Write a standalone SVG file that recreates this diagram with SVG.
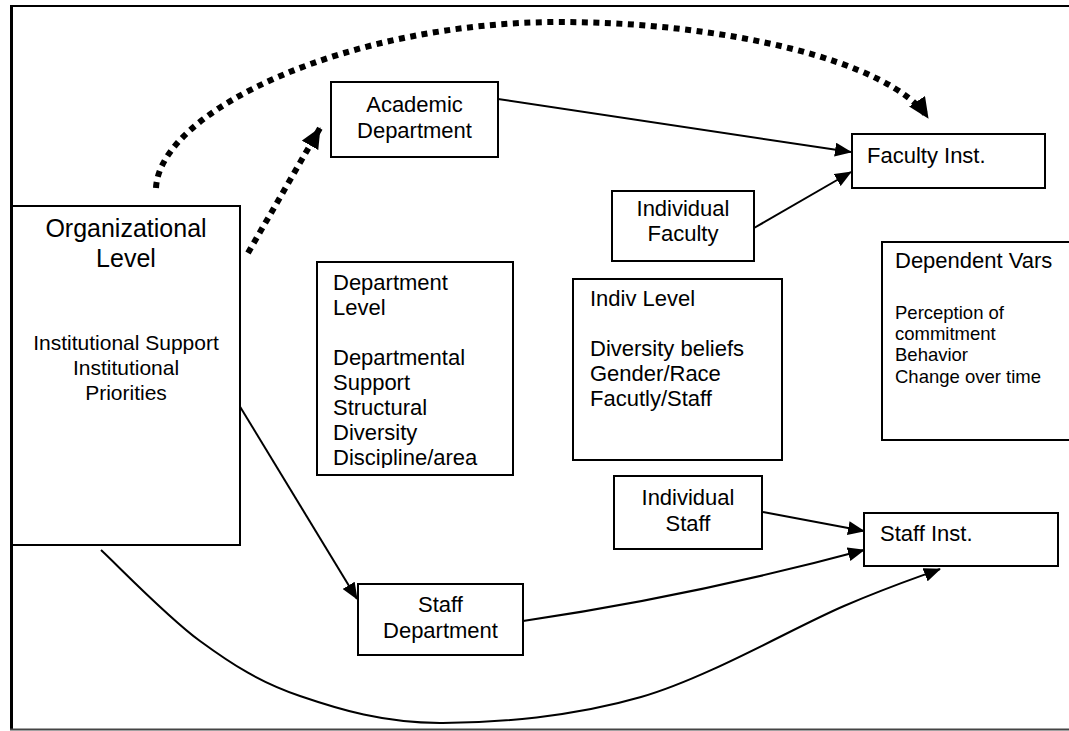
<svg xmlns="http://www.w3.org/2000/svg" width="1069" height="731" viewBox="0 0 1069 731">
  <style>
    .box { fill: #fff; stroke: #000; stroke-width: 2; }
    .t { font-family: "Liberation Sans", Arial, Helvetica, sans-serif; fill: #000; font-size: 22px; }
    .c { text-anchor: middle; }
    .sub { font-size: 21px; }
    .small { font-size: 18.5px; }
    .title { font-size: 25px; }
    .link { fill: none; stroke: #000; stroke-width: 2; }
    .dots { fill: none; stroke: #000; stroke-width: 6; stroke-dasharray: 6 5.5; stroke-linecap: butt; }
  </style>
  <defs>
    <marker id="arrow" markerUnits="userSpaceOnUse" markerWidth="17" markerHeight="14" refX="16" refY="7" orient="auto">
      <path d="M0,0 L17,7 L0,14 z" fill="#000"/>
    </marker>
    <marker id="arrowBig" markerUnits="userSpaceOnUse" markerWidth="21" markerHeight="19" refX="20" refY="9.5" orient="auto">
      <path d="M0,0 L21,9.5 L0,19 z" fill="#000"/>
    </marker>
    <clipPath id="deptClip">
      <rect x="318" y="263" width="194" height="205"/>
    </clipPath>
  </defs>

  <rect width="1069" height="731" fill="#fff"/>

  <!-- page frame (right side falls outside the sheet) -->
  <g id="frame" fill="none">
    <line x1="11.5" y1="5" x2="11.5" y2="730" stroke="#000" stroke-width="3"/>
    <line x1="10" y1="6" x2="1069" y2="6" stroke="#000" stroke-width="2"/>
    <line x1="10" y1="729.5" x2="1069" y2="729.5" stroke="#444" stroke-width="2"/>
  </g>

  <!-- connectors -->
  <g id="connectors">
    <path class="dots" d="M156,188 C160,110 350,22 560,22 C720,22 890,60 928,118" marker-end="url(#arrowBig)"/>
    <path class="dots" d="M248,253 L320,128" marker-end="url(#arrowBig)"/>
    <path class="link" d="M498,99 L851,152" marker-end="url(#arrow)"/>
    <path class="link" d="M754,228 L851,172" marker-end="url(#arrow)"/>
    <path class="link" d="M239,405 L357,599" marker-end="url(#arrow)"/>
    <path class="link" d="M523,621 Q693,596 864,550" marker-end="url(#arrow)"/>
    <path class="link" d="M763,512 L864,531" marker-end="url(#arrow)"/>
    <path class="link" d="M101,550 C117.5,565.2 166.8,616.7 200,641 C233.2,665.3 260,682.3 300,696 C340,709.7 383.2,722.8 440,723 C496.8,723.2 573.7,716.5 641,697 C708.3,677.5 794.2,627.3 844,606 C893.8,584.7 924,575.2 940,569" marker-end="url(#arrow)"/>
  </g>

  <g id="org-level">
    <rect class="box" x="12" y="206" width="228" height="339"/>
    <text class="t c title" x="126" y="237">Organizational</text>
    <text class="t c title" x="126" y="267">Level</text>
    <text class="t c sub" x="126" y="350">Institutional Support</text>
    <text class="t c sub" x="126" y="375">Institutional</text>
    <text class="t c sub" x="126" y="400">Priorities</text>
  </g>

  <g id="academic-dept">
    <rect class="box" x="331" y="82" width="167" height="75"/>
    <text class="t c" x="414.5" y="112">Academic</text>
    <text class="t c" x="414.5" y="138">Department</text>
  </g>

  <g id="faculty-inst">
    <rect class="box" x="852" y="134" width="193" height="54"/>
    <text class="t" x="867" y="163">Faculty Inst.</text>
  </g>

  <g id="individual-faculty">
    <rect class="box" x="612" y="191" width="142" height="70"/>
    <text class="t c" x="683" y="216">Individual</text>
    <text class="t c" x="683" y="241">Faculty</text>
  </g>

  <g id="department-level">
    <rect class="box" x="317" y="262" width="196" height="213"/>
    <g clip-path="url(#deptClip)">
      <text class="t" x="333" y="290">Department</text>
      <text class="t" x="333" y="315">Level</text>
      <text class="t" x="333" y="365">Departmental</text>
      <text class="t" x="333" y="390">Support</text>
      <text class="t" x="333" y="415">Structural</text>
      <text class="t" x="333" y="440">Diversity</text>
      <text class="t" x="333" y="465">Discipline/area</text>
    </g>
  </g>

  <g id="indiv-level">
    <rect class="box" x="573" y="279" width="209" height="181"/>
    <text class="t" x="590" y="306">Indiv Level</text>
    <text class="t" x="590" y="356">Diversity beliefs</text>
    <text class="t" x="590" y="381">Gender/Race</text>
    <text class="t" x="590" y="406">Facutly/Staff</text>
  </g>

  <g id="dependent-vars">
    <rect class="box" x="882" y="242" width="200" height="198"/>
    <text class="t" x="895" y="268">Dependent Vars</text>
    <text class="t small" x="895" y="319">Perception of</text>
    <text class="t small" x="895" y="340">commitment</text>
    <text class="t small" x="895" y="361">Behavior</text>
    <text class="t small" x="895" y="383">Change over time</text>
  </g>

  <g id="individual-staff">
    <rect class="box" x="614" y="476" width="148" height="73"/>
    <text class="t c" x="688" y="505">Individual</text>
    <text class="t c" x="688" y="531">Staff</text>
  </g>

  <g id="staff-inst">
    <rect class="box" x="864" y="513" width="194" height="53"/>
    <text class="t" x="880" y="541">Staff Inst.</text>
  </g>

  <g id="staff-dept">
    <rect class="box" x="358" y="584" width="165" height="71"/>
    <text class="t c" x="440.5" y="612">Staff</text>
    <text class="t c" x="440.5" y="638">Department</text>
  </g>
</svg>
